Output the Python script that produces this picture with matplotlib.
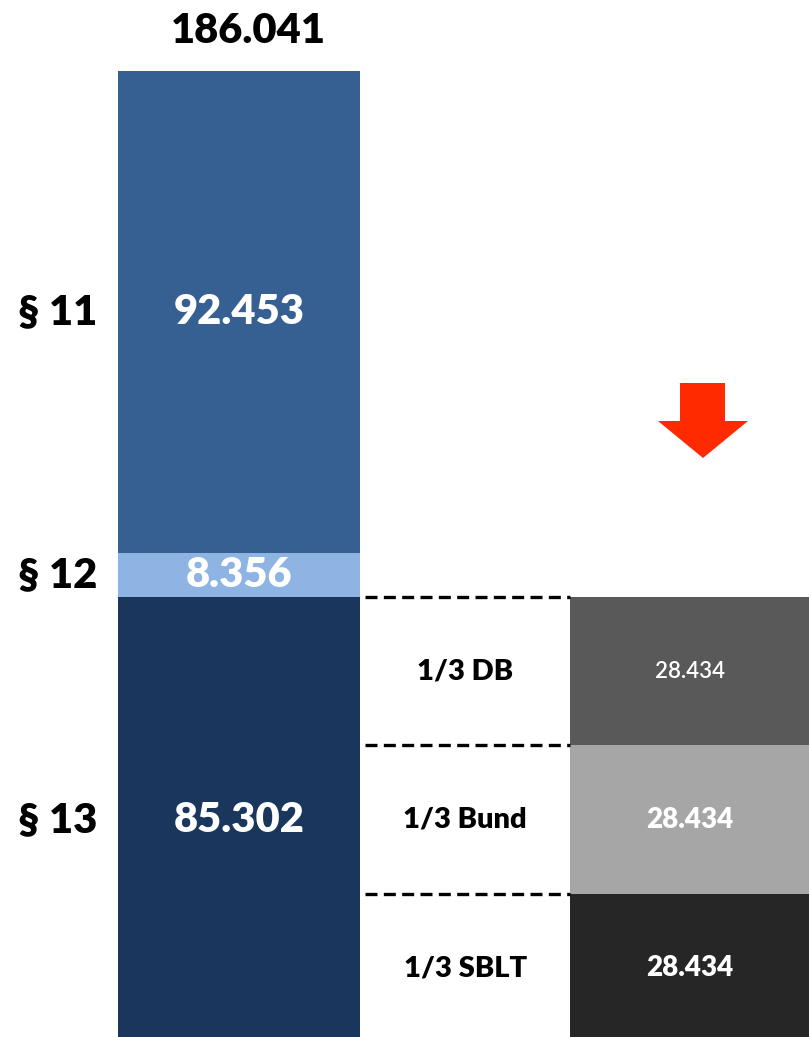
import matplotlib
matplotlib.use("Agg")
import matplotlib.pyplot as plt
from matplotlib.patches import Polygon

# data
left_labels = ["§ 13", "§ 12", "§ 11"]
left_values = [85.302, 8.356, 92.453]
left_text = ["85.302", "8.356", "92.453"]
left_colors = ["#1A365D", "#8EB4E3", "#376092"]
total_text = "186.041"

right_labels = ["1/3 SBLT", "1/3 Bund", "1/3 DB"]
right_values = [28.434, 28.434, 28.434]
right_text = ["28.434", "28.434", "28.434"]
right_colors = ["#262626", "#A6A6A6", "#595959"]

FONT = "Lato"

fig = plt.figure(figsize=(8.09, 10.37), dpi=100)
ax = fig.add_axes([0, 0, 1, 1])
ax.axis("off")

w_left = 0.537
w_right = 0.53
x_left, x_right = 0, 1

# left stacked bar
bottom = 0
for lab, v, t, c in zip(left_labels, left_values, left_text, left_colors):
    ax.bar(x_left, v, bottom=bottom, width=w_left, color=c, edgecolor="none")
    mid = bottom + v / 2
    ax.text(x_left, mid, t, ha="center", va="center", color="white",
            fontsize=30, fontweight="heavy", family=FONT)
    ax.text(-0.49, mid, lab, ha="left", va="center", color="black",
            fontsize=30, fontweight="heavy", family=FONT)
    bottom += v
ax.text(x_left + 0.02, bottom + 3.9, total_text, ha="center", va="bottom", color="black",
        fontsize=30, fontweight="heavy", family=FONT)

# right stacked bar
bottom = 0
for i, (lab, v, t, c) in enumerate(zip(right_labels, right_values, right_text, right_colors)):
    ax.bar(x_right, v, bottom=bottom, width=w_right, color=c, edgecolor="none")
    mid = bottom + v / 2
    small = (i == len(right_values) - 1)
    ax.text(x_right, mid, t, ha="center", va="center", color="white",
            fontsize=16 if small else 20, fontweight="semibold" if small else "heavy",
            family=FONT)
    ax.text((x_left + w_left / 2 + x_right - w_right / 2) / 2, mid, lab,
            ha="center", va="center", color="black", fontsize=21,
            fontweight="heavy", family=FONT)
    top = bottom + v
    ax.plot([x_left + w_left / 2 + 0.012, x_right - w_right / 2], [top, top],
            color="black", lw=2.4, linestyle=(0, (3.6, 1.9)), solid_capstyle="butt")
    bottom = top

ax.set_xlim(-0.530, 1.264)
ax.set_ylim(1.03, 199.65)

# red arrow (figure pixel coords)
W, H = 809, 1037
pts = [(680, 383), (725, 383), (725, 421), (748, 421), (703, 458),
       (658, 421), (680, 421)]
arrow = Polygon([(x / W, 1 - y / H) for x, y in pts], closed=True,
                facecolor="#FF2A00", edgecolor="none", transform=fig.transFigure)
fig.patches.append(arrow)

fig.savefig("out.png", dpi=100)
